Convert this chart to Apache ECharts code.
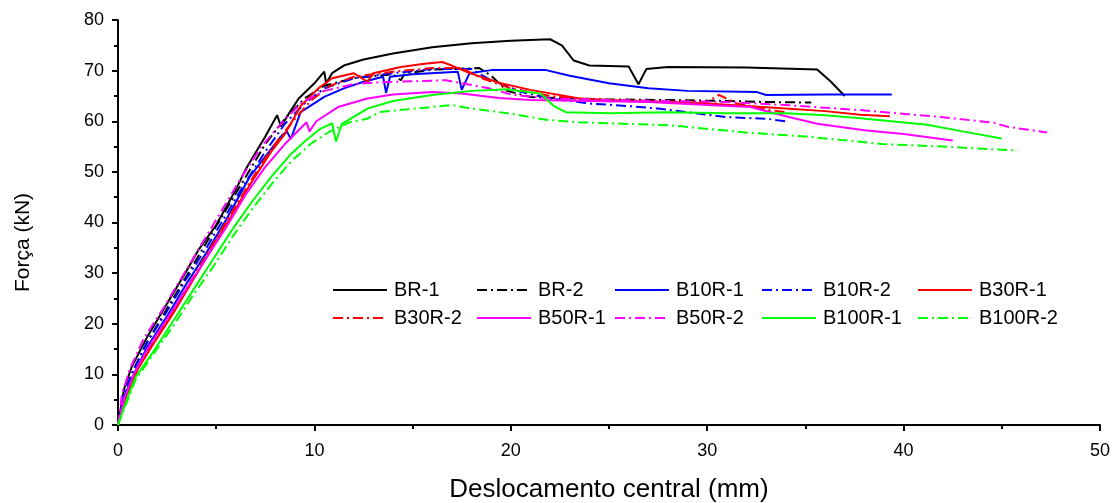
<!DOCTYPE html>
<html>
<head>
<meta charset="utf-8">
<script src="https://cdn.jsdelivr.net/npm/echarts@6/dist/echarts.min.js"></script>
<style>
html,body{margin:0;padding:0;background:#fff;}
#chart{width:1117px;height:503px;}
</style>
</head>
<body>
<div id="chart"></div>
<script>
// Series data: [deslocamento (mm), força (kN)]
const BR1 = [[0,0],[0.3,7],[0.7,11.5],[1.5,17.5],[2.5,24],[3.5,30.5],[4.1,34.6],[5,39.5],[6,46.5],[6.5,50.5],[7.5,57],[8.1,61.2],[8.3,59],[8.7,61.5],[9.2,64.5],[10,67.5],[10.5,69.8],[10.6,67.5],[10.9,69.5],[11.5,71],[12.5,72.2],[14,73.4],[16,74.6],[18,75.4],[20,75.9],[22,76.2],[22.6,75],[23.2,72],[24,71],[26,70.8],[26.5,67.3],[26.9,70.3],[28,70.7],[32,70.6],[35.6,70.2],[36.3,67.8],[37,65]];
const BR2 = [[0,0],[0.3,6],[0.8,11],[1.5,16.5],[2.5,23],[3.5,29.5],[4.5,36],[5.5,42.5],[6.5,49],[7.5,55.5],[8.5,60.5],[9.5,64.5],[10.5,67],[12,68.5],[14,69.3],[14.4,68.1],[14.6,69.4],[16,70.2],[18.4,70.5],[19,69],[19.8,66],[21,64.8],[23,64.5],[25,64.3],[28,64.2],[31,64],[33,63.8],[35.3,63.7]];
const B10R1 = [[0,0],[0.3,5.5],[0.8,10],[1.5,15.5],[2.5,21.5],[3.5,28],[4.5,34],[5.5,40.5],[6.7,49],[7.5,53],[8.3,57],[8.6,58],[8.8,56.5],[9.3,61.8],[10.5,64.8],[11.5,66.5],[12.5,67.8],[13.5,68.8],[13.65,65.6],[13.85,68.8],[15,69.3],[17.3,69.8],[17.5,66.2],[17.9,69.5],[19,70.1],[21.8,70.1],[23,69],[25,67.5],[27,66.5],[29,66],[32.5,65.8],[33,65.2],[36,65.3],[39.4,65.3]];
const B10R2 = [[0,0],[0.3,6],[0.8,11],[1.5,16.5],[2.5,22.5],[3.5,29],[4.5,35],[5.5,41.5],[6.5,48],[7.5,54],[8.5,59.5],[9.5,63.5],[10.5,66.5],[12,68.5],[14,69.5],[16,70.3],[18,70.3],[18.8,68.5],[20.5,65.8],[22,64.5],[24,63.5],[26,63],[27.5,62.5],[29,61.8],[31,60.8],[33,60.5],[34,60]];
const B30R1 = [[0,0],[0.4,5.5],[1,11],[1.8,16],[2.8,22],[3.8,28.5],[4.8,35],[5.8,41.5],[6.8,48],[7.8,54],[8.5,57.5],[9.3,63],[10.2,66.5],[10.9,68.5],[12,69.5],[12.7,67.8],[13,69.5],[14.4,70.7],[15.5,71.3],[16.5,71.7],[17,71],[17.9,69.5],[19.5,67.5],[21,66.2],[23.5,64.5],[26,64],[28,63.8],[30,63.5],[32,63],[34,62.5],[36,62],[37.8,61.3],[39.3,61]];
const B30R2 = [[0,0],[0.4,5.5],[1,11],[1.8,16.5],[2.8,22.5],[3.8,29],[4.8,35.5],[5.8,42],[6.8,48.5],[7.8,54.5],[8.8,59.5],[9.8,64],[10.8,67],[12,68.8],[14,69.8],[16,70.5],[17.5,70.5],[18.5,68.5],[20,66.5],[22,65],[24,64.3],[27,64],[30,63.8],[30.6,65.2],[31.5,63.5],[33,62.3],[34,61.8]];
const B50R1 = [[0,0],[0.3,5],[0.8,10],[1.5,15],[2.5,21],[3.5,27],[4.5,33],[5.5,39],[6.5,45.5],[7.5,51],[8.5,55.5],[9.6,59.8],[9.75,58],[10.1,60],[11.2,62.8],[12.7,64.5],[14,65.3],[16,65.8],[17.5,65.5],[19.4,64.6],[21,64.2],[24,64],[27,63.8],[30,63.2],[32.2,62.8],[34,61],[35.6,59.5],[38,58.2],[40,57.5],[42.5,56.2]];
const B50R2 = [[0,0],[0.2,6],[0.6,11],[1.3,17],[2.3,23],[3.3,29.5],[4.3,36],[5.3,42.5],[6.3,49],[7.3,55],[8.3,59.5],[9.3,63.5],[10.5,66],[12,67.3],[13.3,67.7],[16.7,68.1],[18.9,66.5],[20.1,65.2],[22,64.5],[25,64.2],[28,64],[31,63.8],[34,63.2],[37.8,62.2],[40.2,61.4],[42,60.8],[44.6,59.7],[45.3,58.9],[47.3,57.8]];
const B100R1 = [[0,0],[0.4,4.5],[0.9,9.5],[1.8,14.5],[2.8,20.5],[3.8,26.5],[4.8,32.5],[5.8,38.5],[6.8,44],[7.8,49],[8.8,53.5],[9.5,56],[10.3,58.5],[10.9,59.6],[11.1,56],[11.4,59.5],[12.7,62.5],[14,64],[16,65.2],[18,66],[19.8,66.3],[21.5,65.5],[22.2,63],[22.8,61.8],[25,61.6],[28,61.8],[31,61.6],[34,61.6],[36,61.2],[37.8,60.6],[41.2,59.3],[43,58],[45,56.6]];
const B100R2 = [[0,0],[0.4,4],[0.9,9],[1.8,14],[2.8,19.5],[3.8,25.5],[4.8,31],[5.8,37],[6.8,42.5],[7.8,47.5],[8.8,52],[9.8,55.5],[10.8,58],[11.8,59.8],[12.7,60.5],[13.3,61.8],[15.9,62.8],[17,63.2],[18,62.5],[20,61.5],[21.8,60.3],[23.5,59.8],[28.1,59.2],[32.2,57.7],[35,57],[38.9,55.5],[42,55],[45.8,54.2]];

const xTicks = [0,10,20,30,40,50];
const yTicks = [0,10,20,30,40,50,60,70,80];

const dashDot = [10,4,2,4];
const seriesDefs = [
  {name:'BR-1', data:BR1, color:'#000000', type:'solid'},
  {name:'BR-2', data:BR2, color:'#000000', type:dashDot},
  {name:'B10R-1', data:B10R1, color:'#0000ff', type:'solid'},
  {name:'B10R-2', data:B10R2, color:'#0000ff', type:dashDot},
  {name:'B30R-1', data:B30R1, color:'#ff0000', type:'solid'},
  {name:'B30R-2', data:B30R2, color:'#ff0000', type:dashDot},
  {name:'B50R-1', data:B50R1, color:'#ff00ff', type:'solid'},
  {name:'B50R-2', data:B50R2, color:'#ff00ff', type:dashDot},
  {name:'B100R-1', data:B100R1, color:'#00ff00', type:'solid'},
  {name:'B100R-2', data:B100R2, color:'#00ff00', type:dashDot}
];

const font = 'Liberation Sans, Arial, sans-serif';
const colLeft = [332, 476, 614, 761, 917];
const rowTop = [280, 308];
const legends = seriesDefs.map((s, i) => ({
  orient: 'horizontal',
  left: colLeft[i % 5], top: rowTop[Math.floor(i / 5)],
  itemWidth: 54, itemHeight: 20,
  padding: 0,
  itemStyle: {opacity: 0},
  textStyle: {fontFamily: font, fontSize: 20, color: '#000', padding: [0, 0, 0, 2]},
  data: [s.name]
}));

const chart = echarts.init(document.getElementById('chart'), null, {renderer:'canvas'});
chart.setOption({
  animation: false,
  backgroundColor: '#fff',
  grid: {left: 118, right: 17, top: 20, bottom: 78, containLabel: false, outerBoundsMode: 'none'},
  legend: legends,
  xAxis: {
    type: 'value', min: 0, max: 50, interval: 10,
    name: 'Deslocamento central (mm)', nameLocation: 'middle', nameGap: 52,
    nameTextStyle: {fontFamily: font, fontSize: 26, color: '#000'},
    axisLine: {show: true, lineStyle: {color: '#000', width: 2}},
    axisTick: {show: true, inside: false, length: 6, lineStyle: {color: '#000', width: 2}},
    minorTick: {show: true, splitNumber: 2, length: 4, lineStyle: {color: '#000', width: 2}},
    axisLabel: {fontFamily: font, fontSize: 18, color: '#000', margin: 17, formatter: v => xTicks.includes(v) ? String(v) : ''},
    splitLine: {show: false}
  },
  yAxis: {
    type: 'value', min: 0, max: 80, interval: 10,
    name: 'Força (kN)', nameLocation: 'middle', nameGap: 84,
    nameTextStyle: {fontFamily: font, fontSize: 21, color: '#000', padding: [0, 0, 0, -40]},
    axisLine: {show: true, lineStyle: {color: '#000', width: 2}},
    axisTick: {show: true, inside: false, length: 6, lineStyle: {color: '#000', width: 2}},
    minorTick: {show: true, splitNumber: 2, length: 4, lineStyle: {color: '#000', width: 2}},
    axisLabel: {fontFamily: font, fontSize: 18, color: '#000', margin: 14, formatter: v => yTicks.includes(v) ? String(v) : ''},
    splitLine: {show: false}
  },
  series: seriesDefs.map(s => ({
    name: s.name, type: 'line', data: s.data,
    showSymbol: false, symbol: 'none',
    color: s.color,
    lineStyle: {color: s.color, width: 2, type: s.type}
  }))
});
</script>
</body>
</html>
